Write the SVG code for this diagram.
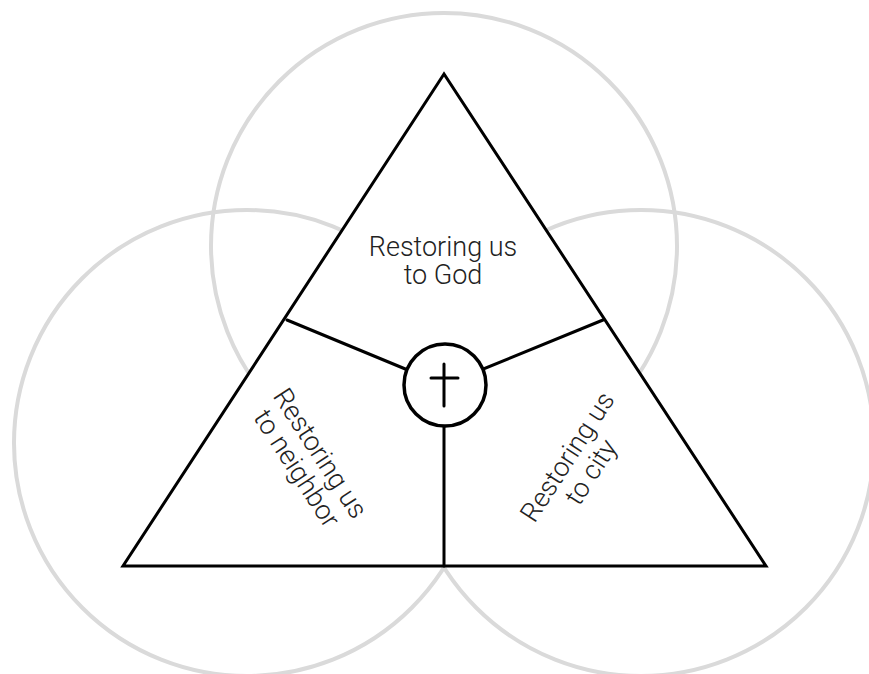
<svg xmlns="http://www.w3.org/2000/svg" width="869" height="674" viewBox="0 0 869 674">
<style>
.ring{fill:none;stroke:#dadada;stroke-width:4}
.blk{stroke:#000;stroke-width:3;fill:none;stroke-linecap:round;stroke-linejoin:miter}
.lbl{font-family:Roboto,"Liberation Sans",sans-serif;font-weight:300;font-size:27px;fill:#222;text-anchor:middle}
</style>
<rect width="869" height="674" fill="#fff"/>
<g id="circles">
<circle id="c-top" class="ring" cx="444" cy="246" r="233"/>
<circle id="c-left" class="ring" cx="247" cy="443" r="233"/>
<circle id="c-right" class="ring" cx="641" cy="443" r="233"/>
</g>
<g id="triangle">
<polygon points="444,74 123,566 766,566" fill="#fff" stroke="#000" stroke-width="3" stroke-linejoin="miter"/>
</g>
<g id="connectors">
<line class="blk" x1="287" y1="320" x2="444" y2="385"/>
<line class="blk" x1="603" y1="320" x2="444" y2="385"/>
<line class="blk" x1="444" y1="385" x2="444" y2="566"/>
</g>
<g id="center">
<circle cx="445" cy="385" r="41" fill="#fff" stroke="#000" stroke-width="3.5"/>
<line class="blk" x1="444" y1="364" x2="444" y2="406" stroke-width="4"/>
<line class="blk" x1="431" y1="378" x2="458" y2="378" stroke-width="4"/>
</g>
<g id="god">
<text class="lbl" x="443" y="256">Restoring us</text>
<text class="lbl" x="443" y="284">to God</text>
</g>
<g id="neighbor" transform="translate(308.5,461) rotate(57)">
<text class="lbl" x="0" y="-5">Restoring us</text>
<text class="lbl" x="0" y="23">to neighbor</text>
</g>
<g id="city" transform="translate(580,465) rotate(-57)">
<text class="lbl" x="0" y="-6">Restoring us</text>
<text class="lbl" x="0" y="22">to city</text>
</g>
</svg>
